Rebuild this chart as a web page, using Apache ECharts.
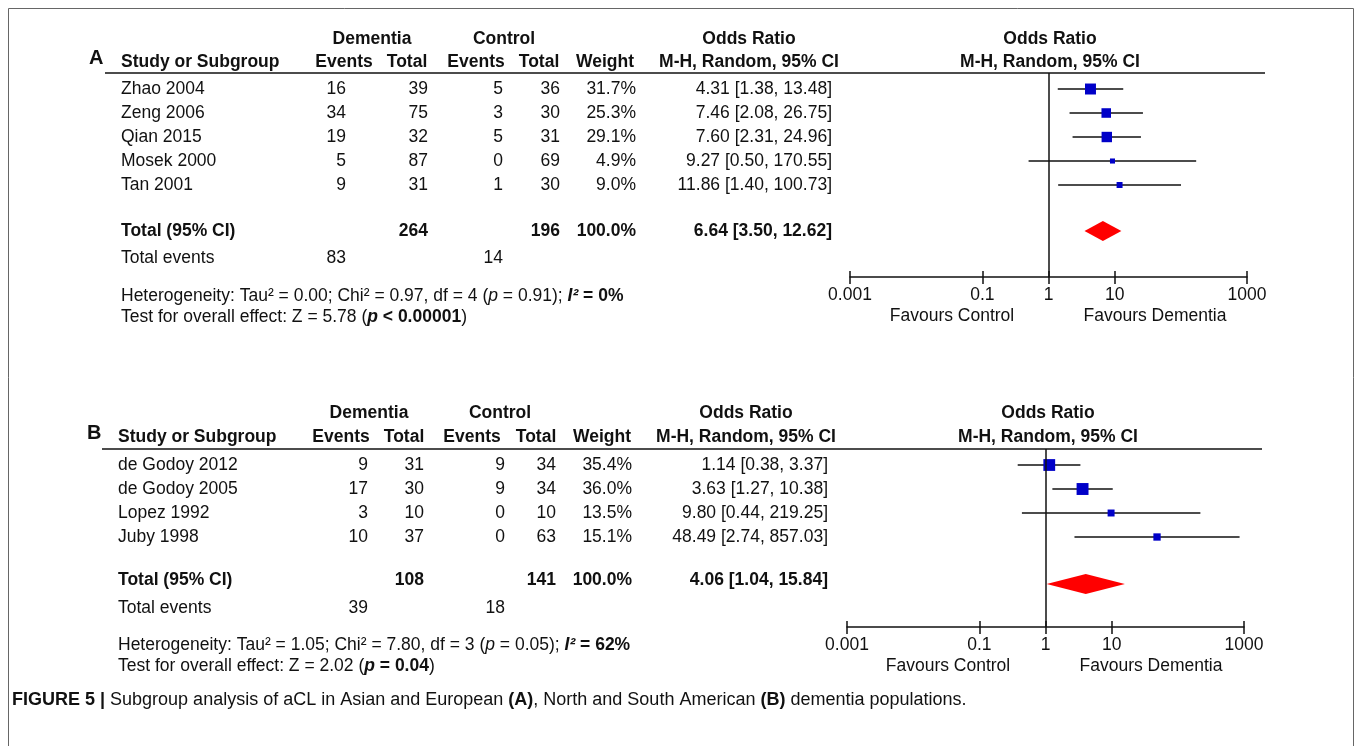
<!DOCTYPE html>
<html>
<head>
<meta charset="utf-8">
<script src="https://cdn.jsdelivr.net/npm/echarts@6/dist/echarts.min.js"></script>
<style>html,body{margin:0;padding:0;background:#fff}#chart{width:1357px;height:746px}</style>
</head>
<body>
<div id="chart"></div>
<script>
// panel A: Asian and European
var studiesA = ['Zhao 2004', 'Zeng 2006', 'Qian 2015', 'Mosek 2000', 'Tan 2001'];
var eventsDemA = [16, 34, 19, 5, 9];
var totalDemA = [39, 75, 32, 87, 31];
var eventsCtlA = [5, 3, 5, 0, 1];
var totalCtlA = [36, 30, 31, 69, 30];
var weightA = [31.7, 25.3, 29.1, 4.9, 9.0];
var orA = [4.31, 7.46, 7.60, 9.27, 11.86];
var loA = [1.38, 2.08, 2.31, 0.50, 1.40];
var hiA = [13.48, 26.75, 24.96, 170.55, 100.73];
var pooledA = [6.64, 3.50, 12.62];
var sumTotalsA = [264, 196];
var sumEventsA = [83, 14];

// panel B: North and South American
var studiesB = ['de Godoy 2012', 'de Godoy 2005', 'Lopez 1992', 'Juby 1998'];
var eventsDemB = [9, 17, 3, 10];
var totalDemB = [31, 30, 10, 37];
var eventsCtlB = [9, 9, 0, 0];
var totalCtlB = [34, 34, 10, 63];
var weightB = [35.4, 36.0, 13.5, 15.1];
var orB = [1.14, 3.63, 9.80, 48.49];
var loB = [0.38, 1.27, 0.44, 2.74];
var hiB = [3.37, 10.38, 219.25, 857.03];
var pooledB = [4.06, 1.04, 15.84];
var sumTotalsB = [108, 141];
var sumEventsB = [39, 18];

var tickValues = [0.001, 0.1, 1, 10, 1000];
var tickLabels = ['0.001', '0.1', '1', '10', '1000'];

var FONT = '"Liberation Sans", Arial, sans-serif';
var FS = 17.5;
var myChart = echarts.init(document.getElementById('chart'));

function txt(x, y, text, opt) {
    opt = opt || {};
    return {
        type: 'text', silent: true,
        style: {
            x: x, y: y, text: text,
            font: (opt.bold ? 'bold ' : '') + (opt.size || FS) + 'px ' + FONT,
            fill: '#111',
            align: opt.align || 'left',
            verticalAlign: 'middle',
            rich: opt.rich
        }
    };
}

function richFor(size) {
    return {
        n: {fontFamily: FONT, fontSize: size, color: '#111'},
        i: {fontFamily: FONT, fontSize: size, fontStyle: 'italic', color: '#111'},
        b: {fontFamily: FONT, fontSize: size, fontWeight: 'bold', color: '#111'},
        bi: {fontFamily: FONT, fontSize: size, fontWeight: 'bold', fontStyle: 'italic', color: '#111'}
    };
}
var rich = richFor(FS);

function fmtCI(o, l, h) {
    return o.toFixed(2) + ' [' + l.toFixed(2) + ', ' + h.toFixed(2) + ']';
}

// builds the table texts of one panel
function table(p) {
    var g = [];
    var c = p.cols;
    g.push(txt(p.labelX, p.hy2 - 4, p.label, {bold: true, size: 20}));
    g.push(txt(c.dem, p.hy1, 'Dementia', {bold: true, align: 'center'}));
    g.push(txt(c.ctl, p.hy1, 'Control', {bold: true, align: 'center'}));
    g.push(txt(c.orh, p.hy1, 'Odds Ratio', {bold: true, align: 'center'}));
    g.push(txt(c.plot, p.hy1, 'Odds Ratio', {bold: true, align: 'center'}));
    g.push(txt(c.name, p.hy2, 'Study or Subgroup', {bold: true}));
    g.push(txt(c.h1, p.hy2, 'Events', {bold: true, align: 'center'}));
    g.push(txt(c.h2, p.hy2, 'Total', {bold: true, align: 'center'}));
    g.push(txt(c.h3, p.hy2, 'Events', {bold: true, align: 'center'}));
    g.push(txt(c.h4, p.hy2, 'Total', {bold: true, align: 'center'}));
    g.push(txt(c.h5, p.hy2, 'Weight', {bold: true, align: 'center'}));
    g.push(txt(c.orh, p.hy2, 'M-H, Random, 95% CI', {bold: true, align: 'center'}));
    g.push(txt(c.plot, p.hy2, 'M-H, Random, 95% CI', {bold: true, align: 'center'}));
    g.push({type: 'line', silent: true, shape: {x1: p.lineX1, y1: p.lineY, x2: p.lineX2, y2: p.lineY},
        style: {stroke: '#111', lineWidth: 1.5}});
    for (var i = 0; i < p.studies.length; i++) {
        var y = p.row0 + i * 24;
        g.push(txt(c.name, y, p.studies[i]));
        g.push(txt(c.evD, y, String(p.evD[i]), {align: 'right'}));
        g.push(txt(c.totD, y, String(p.totD[i]), {align: 'right'}));
        g.push(txt(c.evC, y, String(p.evC[i]), {align: 'right'}));
        g.push(txt(c.totC, y, String(p.totC[i]), {align: 'right'}));
        g.push(txt(c.w, y, p.w[i].toFixed(1) + '%', {align: 'right'}));
        g.push(txt(c.ci, y, fmtCI(p.or[i], p.lo[i], p.hi[i]), {align: 'right'}));
    }
    g.push(txt(c.name, p.totY, 'Total (95% CI)', {bold: true}));
    g.push(txt(c.totD, p.totY, String(p.sums[0]), {bold: true, align: 'right'}));
    g.push(txt(c.totC, p.totY, String(p.sums[1]), {bold: true, align: 'right'}));
    g.push(txt(c.w, p.totY, '100.0%', {bold: true, align: 'right'}));
    g.push(txt(c.ci, p.totY, fmtCI(p.pooled[0], p.pooled[1], p.pooled[2]), {bold: true, align: 'right'}));
    g.push(txt(c.name, p.evY, 'Total events'));
    g.push(txt(c.evD, p.evY, String(p.events[0]), {align: 'right'}));
    g.push(txt(c.evC, p.evY, String(p.events[1]), {align: 'right'}));
    g.push(txt(c.name, p.hetY, p.het, {rich: rich}));
    g.push(txt(c.name, p.hetY + 21, p.test, {rich: rich}));
    g.push(txt(c.favL, p.favY, 'Favours Control', {align: 'center'}));
    g.push(txt(c.favR, p.favY, 'Favours Dementia', {align: 'center'}));
    return g;
}

var graphics = [{
    type: 'rect', silent: true,
    shape: {x: 8.5, y: 8.5, width: 1345, height: 760},
    style: {fill: null, stroke: '#666', lineWidth: 1}
}];
graphics = graphics.concat(table({
    label: 'A', labelX: 89, hy1: 39, hy2: 62, lineY: 73, lineX1: 105, lineX2: 1265,
    row0: 89, totY: 231, evY: 258, hetY: 296, favY: 316,
    studies: studiesA, evD: eventsDemA, totD: totalDemA, evC: eventsCtlA, totC: totalCtlA,
    w: weightA, or: orA, lo: loA, hi: hiA, pooled: pooledA, sums: sumTotalsA, events: sumEventsA,
    cols: {name: 121, evD: 346, totD: 428, evC: 503, totC: 560, w: 636, ci: 832,
        h1: 344, h2: 407, h3: 476, h4: 539, h5: 605, orh: 749, dem: 372, ctl: 504, plot: 1050,
        favL: 952, favR: 1155},
    het: '{n|Heterogeneity: Tau² = 0.00; Chi² = 0.97, df = 4 (}{i|p}{n| = 0.91); }{bi|I²}{b| = 0%}',
    test: '{n|Test for overall effect: Z = 5.78 (}{bi|p}{b| < 0.00001}{n|)}'
}));
graphics = graphics.concat(table({
    label: 'B', labelX: 87, hy1: 413, hy2: 437, lineY: 449, lineX1: 102, lineX2: 1262,
    row0: 465, totY: 580, evY: 608, hetY: 645, favY: 666,
    studies: studiesB, evD: eventsDemB, totD: totalDemB, evC: eventsCtlB, totC: totalCtlB,
    w: weightB, or: orB, lo: loB, hi: hiB, pooled: pooledB, sums: sumTotalsB, events: sumEventsB,
    cols: {name: 118, evD: 368, totD: 424, evC: 505, totC: 556, w: 632, ci: 828,
        h1: 341, h2: 404, h3: 472, h4: 536, h5: 602, orh: 746, dem: 369, ctl: 500, plot: 1048,
        favL: 948, favR: 1151},
    het: '{n|Heterogeneity: Tau² = 1.05; Chi² = 7.80, df = 3 (}{i|p}{n| = 0.05); }{bi|I²}{b| = 62%}',
    test: '{n|Test for overall effect: Z = 2.02 (}{bi|p}{b| = 0.04}{n|)}'
}));
graphics.push(txt(12, 700, '{b|FIGURE 5 | }{n|Subgroup analysis of aCL in Asian and European }{b|(A)}{n|, North and South American }{b|(B)}{n| dementia populations.}', {rich: richFor(18)}));

function xAxisFor(gi, inner) {
    return {
        type: 'log', logBase: 10, gridIndex: gi, min: 0.001, max: 1000, position: 'bottom',
        axisLine: {show: !inner, onZero: false, lineStyle: {color: '#111', width: 1.5}},
        axisTick: {inside: inner, length: inner ? 6 : 7, lineStyle: {color: '#111', width: 1.5}, customValues: tickValues},
        axisLabel: {
            show: !inner, inside: false, color: '#111', fontSize: FS, fontFamily: FONT, margin: 9, customValues: tickValues,
            formatter: function (v) {
                for (var k = 0; k < tickValues.length; k++) {
                    if (Math.abs(Math.log10(v) - Math.log10(tickValues[k])) < 1e-6) return tickLabels[k];
                }
                return '';
            }
        },
        splitLine: {show: false},
        minorTick: {show: false}
    };
}
// rows run downwards: row i sits at y = -i
function yAxisFor(gi, rows) {
    return {type: 'value', gridIndex: gi, min: -rows, max: 0.667, show: false};
}

function seriesFor(gi, or, lo, hi, w, pooled, totIdx) {
    var idx = or.map(function (v, i) { return i; });
    return [{
        type: 'custom', xAxisIndex: gi, yAxisIndex: gi,
        data: idx.map(function (i) { return [lo[i], hi[i], -i]; }),
        renderItem: function (params, api) {
            var a = api.coord([api.value(0), api.value(2)]);
            var b = api.coord([api.value(1), api.value(2)]);
            return {type: 'line', shape: {x1: a[0], y1: a[1], x2: b[0], y2: b[1]},
                style: {stroke: '#111', lineWidth: 1.5}};
        },
        markLine: {
            silent: true, symbol: 'none', label: {show: false},
            lineStyle: {color: '#111', width: 1.5, type: 'solid'},
            data: [{xAxis: 1}]
        },
        z: 2
    }, {
        type: 'scatter', xAxisIndex: gi, yAxisIndex: gi, symbol: 'rect',
        data: idx.map(function (i) { return [or[i], -i, w[i]]; }),
        symbolSize: function (d) { return 4 + d[2] * 0.22; },
        itemStyle: {color: '#0000c8', opacity: 1},
        z: 3
    }, {
        type: 'custom', xAxisIndex: gi, yAxisIndex: gi,
        data: [[pooled[0], pooled[1], pooled[2], -totIdx]],
        renderItem: function (params, api) {
            var m = api.coord([api.value(0), api.value(3)]);
            var l = api.coord([api.value(1), api.value(3)]);
            var r = api.coord([api.value(2), api.value(3)]);
            return {type: 'polygon',
                shape: {points: [[l[0], m[1]], [m[0], m[1] - 10], [r[0], m[1]], [m[0], m[1] + 10]]},
                style: {fill: '#ff0000'}};
        },
        z: 3
    }];
}

var option = {
    animation: false,
    grid: [
        {left: 850, width: 397, top: 73, height: 204},
        {left: 847, width: 397, top: 449, height: 178}
    ],
    // second axis per grid only draws the upper half of the crossing ticks
    xAxis: [xAxisFor(0, false), xAxisFor(1, false), xAxisFor(0, true), xAxisFor(1, true)],
    yAxis: [yAxisFor(0, 7.833), yAxisFor(1, 6.75)],
    series: seriesFor(0, orA, loA, hiA, weightA, pooledA, 5.92)
        .concat(seriesFor(1, orB, loB, hiB, weightB, pooledB, 4.96)),
    graphic: graphics
};

myChart.setOption(option);
</script>
</body>
</html>
